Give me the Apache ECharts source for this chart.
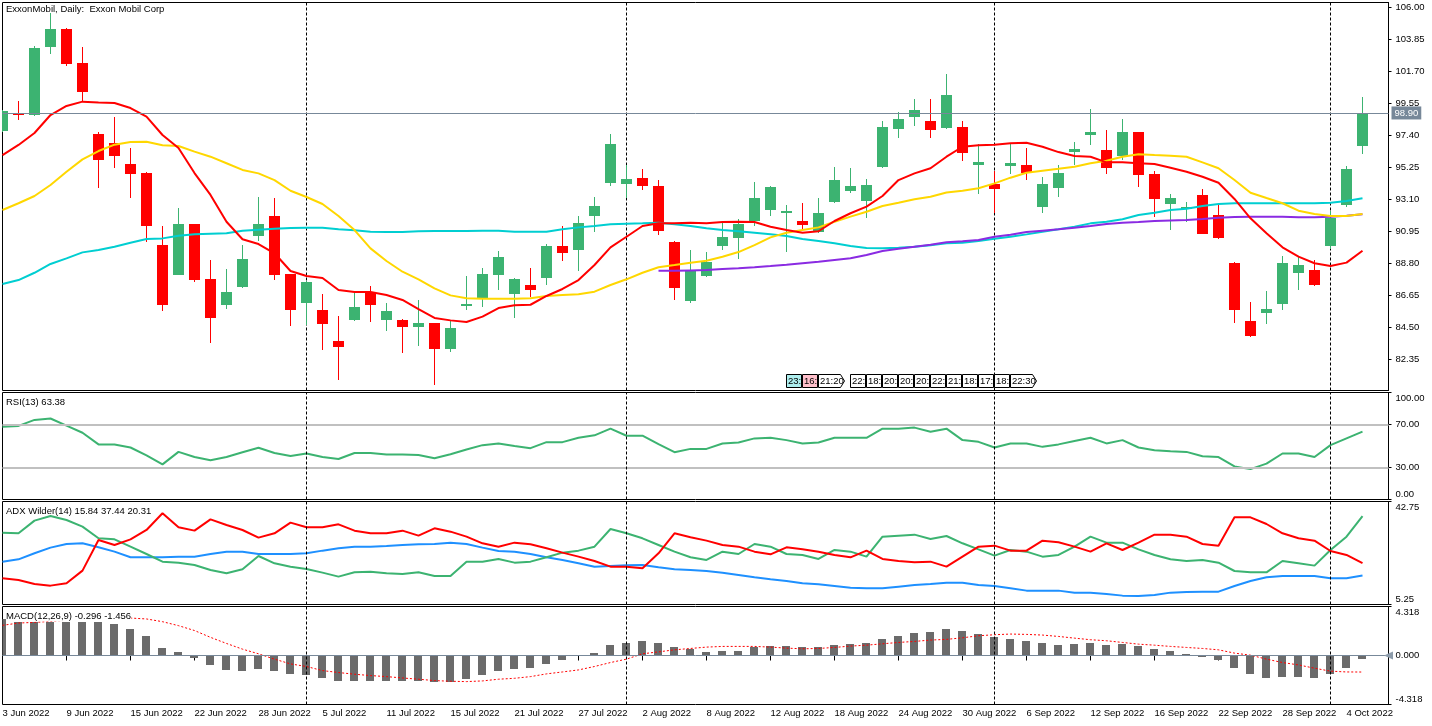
<!DOCTYPE html>
<html><head><meta charset="utf-8">
<script src="https://cdn.jsdelivr.net/npm/echarts@6.0.0/dist/echarts.min.js"></script>
<style>html,body{margin:0;padding:0;background:#fff;}#c{width:1432px;height:726px;}</style>
</head><body><div id="c"></div>
<script>
// ---------------- data ----------------
const chartTitle = 'ExxonMobil, Daily:  Exxon Mobil Corp';
const tickLabels = ['3 Jun 2022','9 Jun 2022','15 Jun 2022','22 Jun 2022','28 Jun 2022','5 Jul 2022','11 Jul 2022','15 Jul 2022','21 Jul 2022','27 Jul 2022','2 Aug 2022','8 Aug 2022','12 Aug 2022','18 Aug 2022','24 Aug 2022','30 Aug 2022','6 Sep 2022','12 Sep 2022','16 Sep 2022','22 Sep 2022','28 Sep 2022','4 Oct 2022'];
const tickEvery = 4;
const monthStartBars = [19, 39, 62, 83];

const opens = [97.71,98.93,98.76,103.33,104.54,102.26,97.49,96.86,95.47,94.86, 90.03,88.01,91.44,87.74,85.99,87.20,90.65,91.97,88.08,86.13, 85.66,83.57,84.99,86.87,84.99,84.99,84.53,84.78,83.04,85.93, 86.46,88.01,86.73,87.34,87.81,89.96,89.69,91.97,94.19,94.12, 94.53,93.99,90.23,86.26,87.94,89.96,90.50,91.64,92.38,92.25, 91.64,90.90,92.92,93.65,92.98,95.27,97.82,98.63,98.36,97.89, 97.96,95.42,94.12,95.35,95.40,92.60,93.86,96.30,97.44,96.41, 96.03,97.62,94.82,92.78,92.45,93.39,92.04,88.84,84.92,85.48, 86.08,88.16,88.35,89.98,92.71,96.70];
const highs = [99.10,99.70,103.40,105.60,104.60,103.33,97.64,98.65,96.54,94.90, 91.30,92.51,91.45,89.02,88.41,90.03,93.25,93.18,88.10,87.60, 86.73,85.25,86.80,87.27,86.13,85.05,86.33,84.80,84.99,87.94, 88.48,89.62,87.80,88.48,90.09,91.30,91.97,93.25,97.49,95.40, 95.13,94.39,90.30,89.69,89.56,91.50,91.77,94.26,94.00,92.71, 92.85,93.18,95.27,95.20,94.46,98.36,98.96,99.84,99.84,101.52, 98.36,96.81,95.00,96.81,96.54,94.60,95.40,96.95,99.17,97.75, 98.49,97.65,95.00,93.45,92.92,93.79,92.71,88.85,86.20,86.93, 89.29,89.29,89.02,92.31,95.33,99.97];
const lows = [97.60,98.43,98.70,102.86,102.08,99.66,93.88,95.22,93.20,90.25, 85.61,88.00,87.54,83.46,85.72,87.15,90.29,87.67,84.58,84.65, 82.97,80.95,84.95,84.85,84.25,82.77,83.24,80.62,82.83,85.66, 85.88,87.00,85.12,86.53,87.34,88.95,88.29,90.90,93.99,93.18, 93.72,90.72,86.33,86.13,87.90,89.69,89.08,91.30,91.97,89.56, 91.03,90.85,92.85,93.52,91.84,95.20,97.22,98.02,97.22,97.80, 95.67,93.45,92.18,94.80,94.39,92.18,93.25,95.40,96.75,94.82, 95.76,93.94,91.91,91.03,91.57,90.75,90.45,84.80,83.87,84.74, 85.68,87.02,87.30,89.76,92.58,96.16];
const closes = [99.03,98.83,103.26,104.54,102.21,100.33,95.74,96.03,94.82,91.32, 85.99,91.44,87.67,85.14,86.87,89.08,91.44,88.01,85.66,87.54, 84.74,83.19,85.86,85.99,85.59,84.53,84.78,83.04,84.45,86.06, 88.08,89.22,87.74,87.00,89.96,89.49,91.50,92.65,96.81,94.46, 93.99,90.99,87.14,88.35,88.88,90.56,91.44,93.18,93.92,92.32, 91.37,92.18,94.39,94.00,94.06,97.96,98.49,99.10,97.75,100.11, 96.23,95.60,93.79,95.55,94.88,94.12,94.86,96.48,97.62,95.22, 97.62,94.75,93.12,93.18,92.55,90.78,90.50,85.68,83.93,85.72, 88.84,88.68,87.36,91.84,95.13,98.90];

const maRed = [96.07,96.75,97.55,98.76,99.37,99.66,99.61,99.57,99.23,98.65, 97.42,96.54,94.86,93.39,91.59,90.41,90.09,89.47,88.28,87.94, 87.81,87.00,86.87,86.87,86.66,86.33,85.72,85.12,84.96,84.85, 85.21,85.79,85.97,86.01,86.60,87.07,87.67,88.68,89.87,90.58, 91.30,91.48,91.48,91.52,91.48,91.57,91.59,91.57,91.25,91.03, 90.85,90.95,91.64,92.16,92.60,93.32,94.39,94.84,95.18,95.96, 96.63,96.73,96.77,96.86,96.90,96.63,96.27,96.01,95.96,95.58, 95.58,95.52,95.47,95.22,94.95,94.61,94.21,93.12,91.82,90.81, 89.87,89.24,88.80,88.61,88.84,89.64];
const maYellow = [92.38,92.83,93.32,94.06,94.95,95.78,96.34,96.77,96.95,96.97, 96.73,96.68,96.30,95.96,95.52,95.07,94.84,94.39,93.67,93.25, 92.78,91.97,91.03,89.80,88.95,88.23,87.72,87.11,86.64,86.44, 86.42,86.42,86.42,86.44,86.60,86.66,86.71,86.89,87.34,87.72, 88.16,88.53,88.68,88.84,88.97,89.24,89.55,90.02,90.54,90.85, 91.03,91.21,91.59,91.93,92.26,92.65,92.87,93.10,93.27,93.55, 93.67,93.84,94.17,94.55,94.88,95.02,95.15,95.29,95.52,95.69, 95.96,96.12,96.07,96.03,95.96,95.58,95.18,94.39,93.54,93.18, 92.83,92.33,92.11,91.97,91.97,92.11];
const maCyan = [87.40,87.67,88.16,88.75,89.13,89.53,89.69,89.91,90.18,90.43, 90.47,90.65,90.74,90.78,90.81,90.99,91.05,91.12,91.17,91.19, 91.19,91.08,91.01,90.92,90.90,90.90,90.95,90.97,90.97,90.97, 90.99,90.99,90.92,90.92,90.92,91.08,91.21,91.30,91.42,91.46, 91.48,91.52,91.42,91.30,91.15,91.03,90.95,90.85,90.74,90.63, 90.43,90.29,90.14,89.96,89.82,89.80,89.84,89.91,90.01,90.14, 90.18,90.29,90.45,90.58,90.74,90.92,91.08,91.25,91.48,91.59, 91.75,92.04,92.20,92.38,92.46,92.65,92.78,92.83,92.83,92.83, 92.83,92.83,92.83,92.87,92.98,93.16];
const maPurpleStart = 41;
const maPurple = [88.30,88.30,88.32,88.34,88.41,88.46,88.53,88.61,88.70,88.80, 88.90,89.02,89.13,89.35,89.62,89.78,89.91,90.04,90.21, 90.27,90.36,90.58,90.72,90.90,90.99,91.08,91.19,91.30,91.44, 91.52,91.57,91.64,91.68,91.71,91.77,91.86,91.91,91.93,91.93, 91.93,91.89,91.89,91.93,91.99,92.09];
const priceTicks = [82.35,84.50,86.65,88.80,90.95,93.10,95.25,97.40,99.55,101.70,103.85,106.00];
const priceMin = 80.247, priceMax = 106.323;

const rsi = [68.1,68.8,74.4,75.7,69.1,62.4,51.5,51.5,48.6,41.3, 32.8,44.5,39.7,36.6,39.7,44.2,48.3,43.5,40.7,43.0, 39.7,37.8,43.5,43.5,42.0,42.0,41.6,38.5,42.3,46.7, 50.8,52.4,49.9,48.0,53.6,53.6,57.7,60.0,66.2,59.6, 59.6,51.7,44.2,47.3,47.3,52.4,53.3,57.1,57.7,55.5, 52.4,53.3,57.7,57.7,57.7,66.2,66.2,67.2,63.4,66.2, 55.5,53.9,48.6,52.4,52.4,49.2,51.5,54.6,57.7,52.4, 55.5,48.6,46.1,45.1,44.5,40.4,39.7,30.9,28.4,33.5, 43.0,43.0,39.7,50.8,57.1,63.38];
const rsiLevels = [30, 70];
const rsiTicks = [0, 30, 70, 100];

const adx = [20.85,21.70,23.89,25.95,27.28,27.53,26.07,24.49,22.43,22.43, 22.43,22.67,22.67,23.64,24.49,24.49,23.64,23.64,23.64,23.89, 24.86,25.71,26.31,26.31,26.56,26.92,27.16,27.28,27.77,27.28, 25.95,24.73,24.49,23.64,22.43,21.46,20.25,19.03,19.27,19.52, 19.64,18.79,18.06,17.82,17.45,16.85,16.00,15.15,14.42,13.81, 12.96,12.60,11.99,11.39,11.14,11.14,11.75,12.36,12.72,13.21, 13.21,12.36,11.99,11.14,10.30,10.30,10.30,9.57,9.57,9.08, 8.48,8.35,8.72,9.57,9.81,9.93,9.93,11.99,13.81,15.15, 15.63,15.63,15.63,14.79,14.79,15.84];
const plusDI = [31.41,31.17,35.78,37.48,36.02,33.59,29.35,28.98,26.31,23.64, 20.85,20.49,19.64,17.82,16.61,18.06,22.91,20.25,19.03,18.18, 16.85,15.39,16.97,17.21,16.61,16.36,16.97,15.63,15.63,20.85, 20.85,21.82,20.49,20.85,22.43,24.13,24.86,26.31,32.74,31.17, 29.35,26.92,24.49,22.43,21.46,24.49,23.64,27.28,26.31,23.64, 23.28,21.82,25.10,24.49,22.67,29.95,30.32,30.68,29.10,30.20, 27.53,25.34,23.04,25.10,24.49,22.67,23.28,26.31,29.95,27.77, 27.77,25.34,23.28,21.70,21.09,21.46,20.49,17.45,16.97,16.97, 21.09,20.25,19.40,25.10,29.95,37.44];
const minusDI = [14.79,14.18,12.72,12.12,12.96,17.58,28.74,26.92,28.98,32.38, 38.45,33.35,32.14,36.26,34.20,32.38,29.59,31.17,35.05,33.35, 33.35,34.44,32.14,31.17,31.17,32.14,30.32,32.99,31.77,29.95, 27.53,26.31,27.77,27.16,25.71,24.13,22.67,21.09,19.03,19.03, 18.43,23.89,31.17,29.71,28.50,26.92,26.31,24.49,23.52,26.07, 25.34,24.49,23.28,22.43,24.86,21.82,21.09,20.61,20.85,19.03, 22.67,26.31,26.68,24.86,24.86,28.50,27.89,26.31,24.49,27.53, 25.10,27.77,30.68,30.68,29.95,27.28,26.68,36.99,36.99,34.56, 31.17,29.35,28.50,24.73,23.28,20.31];
const adxTicks = [5.25, 42.75];

const macdHist = [3.25,2.95,2.98,2.98,2.98,2.98,2.98,2.80,2.36,1.68, 0.68,0.32,-0.18,-0.80,-1.24,-1.33,-1.15,-1.33,-1.62,-1.71, -1.95,-2.21,-2.21,-2.21,-2.21,-2.21,-2.21,-2.30,-2.30,-2.07, -1.68,-1.33,-1.15,-1.06,-0.71,-0.44,0.02,0.24,0.89,1.12, 1.30,1.12,0.77,0.53,0.32,0.41,0.41,0.71,0.86,0.86, 0.77,0.77,0.94,1.03,1.12,1.48,1.74,2.01,2.09,2.36, 2.18,1.92,1.65,1.48,1.30,1.12,0.94,1.03,1.12,0.94, 1.03,0.86,0.59,0.41,0.15,-0.15,-0.44,-1.06,-1.59,-1.95, -1.86,-1.86,-1.95,-1.59,-1.06,-0.296];
const macdSignal = [2.66,2.86,2.92,3.00,3.10,3.18,3.24,3.28,3.30,3.22, 2.98,2.63,2.20,1.60,1.06,0.56,0.15,-0.32,-0.74,-0.97, -1.33,-1.50,-1.65,-1.77,-1.86,-1.98,-2.09,-2.21,-2.27,-2.30, -2.24,-2.09,-2.01,-1.86,-1.62,-1.45,-1.27,-0.97,-0.62,-0.32, 0.15,0.32,0.50,0.62,0.74,0.80,0.80,0.80,0.74,0.65, 0.59,0.62,0.71,0.83,0.91,1.03,1.15,1.24,1.36,1.42, 1.56,1.74,1.83,1.89,1.86,1.80,1.68,1.53,1.39,1.30, 1.15,1.00,0.91,0.80,0.71,0.62,0.50,0.21,0.03,-0.32, -0.62,-0.83,-1.12,-1.38,-1.45,-1.456];
const macdTicks = [-4.318, 0, 4.318];

const eventBars = [49,50,51,53,54,55,56,57,58,59,60,61,62,63];
const eventTexts = ['23:','16:','21:20','22:','18:','20:','20:','20:','22:','21:','18:','17:','18:','22:30'];
const eventKinds = ['a','b','c','c','c','c','c','c','c','c','c','c','c','c'];

// ---------------- layout / style ----------------
const FONT = '"Liberation Sans", Arial, sans-serif';
const FS = 9.5;
const N = closes.length;
const xMax = N - 1 + 1.625;
const L = 2.5, W = 1386;
const GREEN = '#3CB371', RED = '#FF0000';
const last = a => a[a.length - 1];
const pts = (arr, start) => arr.map((v, k) => [k + (start || 0), v]);
const clipTo = cs => ({x: cs.x, y: cs.y, width: cs.width, height: cs.height});

function renderCandle(params, api) {
  const i = api.value(0), o = api.value(1), h = api.value(2), l = api.value(3), c = api.value(4);
  const cs = params.coordSys;
  const pO = api.coord([i, o]), pC = api.coord([i, c]), pH = api.coord([i, h]), pL = api.coord([i, l]);
  const cx = Math.floor(pO[0]);
  const color = c >= o ? GREEN : RED;
  let top = Math.round(Math.min(pO[1], pC[1]));
  let bot = Math.round(Math.max(pO[1], pC[1]));
  if (bot - top < 2) bot = top + 2;
  const children = [];
  children.push({type: 'line', shape: {x1: cx + 0.5, y1: Math.round(pH[1]), x2: cx + 0.5, y2: Math.round(pL[1])}, style: {stroke: color, lineWidth: 1}});
  const body = echarts.graphic.clipRectByRect({x: cx - 5, y: top, width: 11, height: bot - top}, clipTo(cs));
  if (body) children.push({type: 'rect', shape: body, style: {fill: color}});
  return {type: 'group', children};
}
function renderHist(params, api) {
  const i = api.value(0), v = api.value(1);
  const cs = params.coordSys;
  const p0 = api.coord([i, 0]), p1 = api.coord([i, v]);
  const cx = Math.floor(p1[0]);
  const y0 = Math.round(p0[1]), y1 = Math.round(p1[1]);
  const r = echarts.graphic.clipRectByRect({x: cx - 4, y: Math.min(y0, y1), width: 8, height: Math.max(1, Math.abs(y1 - y0))}, clipTo(cs));
  if (!r) return null;
  return {type: 'rect', shape: r, style: {fill: '#6B6B6B'}};
}
function renderEvent(params, api) {
  const k = api.value(1);
  const cs = params.coordSys;
  const p = api.coord([api.value(0), priceMin]);
  const x0 = Math.floor(p[0]) + 0.5;
  const yb = cs.y + cs.height - 3, yt = yb - 13;
  const txt = eventTexts[k];
  const wide = txt.length > 3;
  const w = wide ? 22 : 15;
  const fill = eventKinds[k] === 'a' ? '#AEEEEE' : eventKinds[k] === 'b' ? '#FFC0CB' : '#FFFFFF';
  const shape = wide
    ? {type: 'polygon', shape: {points: [[x0, yt], [x0 + w, yt], [x0 + w + 4, (yt + yb) / 2], [x0 + w, yb], [x0, yb]]}, style: {fill, stroke: '#000', lineWidth: 1}}
    : {type: 'rect', shape: {x: x0, y: yt, width: w, height: yb - yt}, style: {fill, stroke: '#000', lineWidth: 1}};
  return {type: 'group', children: [shape, {type: 'text', style: {x: x0 + 1.5, y: (yt + yb) / 2 + 0.5, text: txt, fill: '#000', font: FS + 'px ' + FONT, verticalAlign: 'middle', align: 'left'}}]};
}

const axisText = {color: '#000', fontSize: FS, fontFamily: FONT};
const shiftRich = {
  dn: Object.assign({padding: [11, 0, 0, 0]}, axisText),
  up: Object.assign({padding: [0, 0, 11, 0]}, axisText),
  n: Object.assign({}, axisText)
};
function yAxis(gi, min, max, ticks, dec) {
  return {
    type: 'value', gridIndex: gi, position: 'right', min, max,
    axisLine: {show: true, onZero: false, lineStyle: {color: '#000', width: 1}},
    axisTick: {show: true, length: 3, customValues: ticks, lineStyle: {color: '#000'}},
    splitLine: {show: false},
    axisLabel: Object.assign({
      customValues: ticks, margin: 7, rich: shiftRich,
      formatter: v => {
        const s = v.toFixed(dec);
        if (gi === 0) return s;
        if (Math.abs(v - max) < 1e-9) return '{dn|' + s + '}';
        if (Math.abs(v - min) < 1e-9) return '{up|' + s + '}';
        return '{n|' + s + '}';
      }
    }, axisText)
  };
}
const tickBars = tickLabels.map((_, k) => k * tickEvery);
function xAxis(gi, showLabels) {
  const base = {type: 'value', gridIndex: gi, min: 0, max: xMax, splitLine: {show: false}};
  if (!showLabels) return Object.assign(base, {show: false});
  return Object.assign(base, {
    axisLine: {show: false},
    axisTick: {show: true, length: 5, customValues: tickBars, lineStyle: {color: '#000'}},
    axisLabel: Object.assign({customValues: tickBars, align: 'left', margin: 4,
      formatter: v => tickLabels[Math.round(v / tickEvery)] || ''}, axisText)
  });
}
const sepLine = {
  symbol: 'none', silent: true, animation: false,
  label: {show: false},
  lineStyle: {color: '#000', type: [3, 2], width: 1},
  data: monthStartBars.map(b => ({xAxis: b}))
};
function line(name, gi, data, color, extra) {
  return Object.assign({
    type: 'line', name, xAxisIndex: gi, yAxisIndex: gi, data, showSymbol: false, symbol: 'none',
    lineStyle: {color, width: 2}, itemStyle: {color}, z: 3, animation: false, clip: true
  }, extra || {});
}
const titleStyle = {fontSize: FS, fontWeight: 'normal', color: '#000', fontFamily: FONT, lineHeight: 11};

const option = {
  animation: false,
  backgroundColor: '#fff',
  textStyle: {fontFamily: FONT},
  title: [
    {text: chartTitle, left: 6, top: 3.5, padding: 0, textStyle: titleStyle},
    {text: 'RSI(13) ' + last(rsi).toFixed(2), left: 6, top: 396.5, padding: 0, textStyle: titleStyle},
    {text: 'ADX Wilder(14) ' + last(adx).toFixed(2) + ' ' + last(plusDI).toFixed(2) + ' ' + last(minusDI).toFixed(2), left: 6, top: 505.5, padding: 0, textStyle: titleStyle},
    {text: 'MACD(12,26,9) ' + last(macdHist).toFixed(3) + ' ' + last(macdSignal).toFixed(3), left: 6, top: 610.5, padding: 0, backgroundColor: '#fff', textStyle: titleStyle}
  ],
  grid: [
    {left: L, top: 2.5, width: W, height: 388},
    {left: L, top: 392.5, width: W, height: 107},
    {left: L, top: 501.5, width: W, height: 103},
    {left: L, top: 606.5, width: W, height: 98}
  ].map(g => Object.assign(g, {show: true, borderColor: '#000', borderWidth: 1, backgroundColor: 'transparent', containLabel: false, outerBoundsMode: 'none'})),
  xAxis: [xAxis(0, false), xAxis(1, false), xAxis(2, false), xAxis(3, true)],
  yAxis: [
    yAxis(0, priceMin, priceMax, priceTicks, 2),
    yAxis(1, 0, 100, rsiTicks, 2),
    yAxis(2, adxTicks[0], adxTicks[1], adxTicks, 2),
    yAxis(3, macdTicks[0], macdTicks[2], macdTicks, 3)
  ],
  series: [
    {type: 'custom', name: 'candles', xAxisIndex: 0, yAxisIndex: 0, renderItem: renderCandle, z: 2,
     encode: {x: 0, y: [1, 2, 3, 4]}, animation: false,
     data: opens.map((o, i) => [i, o, highs[i], lows[i], closes[i]])},
    line('sepMain', 0, pts(maCyan), '#00CED1', {markLine: Object.assign({}, sepLine, {z: 1})}),
    line('maPurple', 0, pts(maPurple, maPurpleStart), '#8A2BE2'),
    line('maYellow', 0, pts(maYellow), '#FFD700'),
    line('maRed', 0, pts(maRed), RED, {markLine: {symbol: 'none', silent: true, animation: false,
      data: [{yAxis: last(closes), lineStyle: {color: '#778899', width: 1, type: 'solid'},
        label: {show: true, position: 'end', distance: 3, formatter: last(closes).toFixed(2), color: '#fff', backgroundColor: '#778899', padding: [2, 3, 1, 3], fontSize: FS, fontFamily: FONT}}]}}),
    {type: 'custom', name: 'events', xAxisIndex: 0, yAxisIndex: 0, renderItem: renderEvent, z: 5,
     encode: {x: 0}, animation: false, data: eventBars.map((b, k) => [b, k])},

    line('rsi', 1, pts(rsi), GREEN, {markLine: {symbol: 'none', silent: true, animation: false, label: {show: false},
      data: rsiLevels.map(v => ({yAxis: v, lineStyle: {color: '#C0C0C0', width: 2, type: 'solid'}}))
        .concat(monthStartBars.map(b => ({xAxis: b, lineStyle: {color: '#000', type: [3, 2], width: 1}})))}}),

    line('adx', 2, pts(adx), '#1E90FF', {markLine: sepLine}),
    line('plusDI', 2, pts(plusDI), GREEN),
    line('minusDI', 2, pts(minusDI), RED),

    {type: 'custom', name: 'hist', xAxisIndex: 3, yAxisIndex: 3, renderItem: renderHist, z: 2,
     encode: {x: 0, y: 1}, animation: false, data: pts(macdHist)},
    line('signal', 3, pts(macdSignal), RED, {lineStyle: {color: RED, width: 1, type: [2, 2]}, z: 4,
      markLine: {symbol: 'none', silent: true, animation: false, label: {show: false},
        data: [{yAxis: 0, lineStyle: {color: '#778899', width: 1, type: 'solid'}}]
          .concat(monthStartBars.map(b => ({xAxis: b, lineStyle: {color: '#000', type: [3, 2], width: 1}})))},
      markPoint: {silent: true, animation: false, symbol: 'triangle', symbolSize: [8, 9], symbolRotate: 90,
        itemStyle: {color: '#8C9BAA'}, label: {show: false}, data: [{coord: [xMax, 0]}]}})
  ]
};
const chart = echarts.init(document.getElementById('c'), null, {renderer: 'canvas'});
chart.setOption(option);
</script>
</body></html>
